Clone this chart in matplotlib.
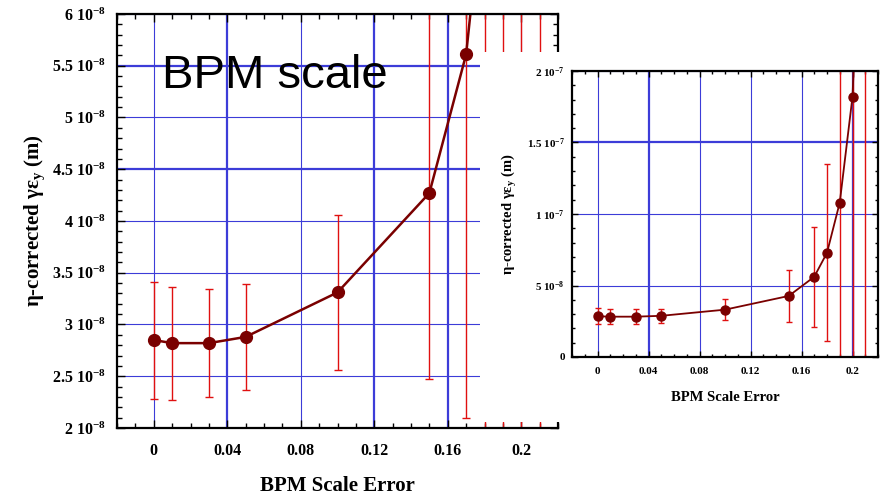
import numpy as np
import matplotlib
matplotlib.use('Agg')
import matplotlib.pyplot as plt
from matplotlib.ticker import MultipleLocator, FuncFormatter, FixedLocator
from matplotlib.patches import Rectangle

plt.rcParams['font.family'] = ['Liberation Serif', 'DejaVu Serif']
plt.rcParams['font.weight'] = 'bold'
plt.rcParams['axes.labelweight'] = 'bold'
plt.rcParams['mathtext.default'] = 'regular'
plt.rcParams['axes.unicode_minus'] = False

# BPM scale error and corrected emittance (m)
scale_err = [0.0, 0.01, 0.03, 0.05, 0.10, 0.15, 0.17, 0.18, 0.19, 0.20, 0.21]
emit = [2.85e-8, 2.82e-8, 2.82e-8, 2.88e-8, 3.31e-8, 4.27e-8, 5.61e-8,
        7.29e-8, 1.08e-7, 1.82e-7, 4.0e-7]
emit_err = [0.565e-8, 0.545e-8, 0.52e-8, 0.51e-8, 0.745e-8, 1.8e-8, 3.51e-8,
            6.2e-8, 1.2e-7, 2.5e-7, 5.0e-7]

left_yticks = [2e-8, 2.5e-8, 3e-8, 3.5e-8, 4e-8, 4.5e-8, 5e-8, 5.5e-8, 6e-8]
right_yticks = [0, 5e-8, 1e-7, 1.5e-7, 2e-7]

line_col = '#7a0000'
err_col = '#e01010'
grid_col = '#3c3cd8'


def sci(v, pos=None):
    if v == 0:
        return '0'
    e = int(np.floor(np.log10(abs(v)) + 1e-9))
    m = round(v / 10**e, 3)
    return '%g 10$^{%d}$' % (m, e)


def style(ax, lsize, major, minor):
    ax.xaxis.set_major_locator(MultipleLocator(0.04))
    ax.xaxis.set_minor_locator(MultipleLocator(0.01))
    ax.xaxis.set_major_formatter(FuncFormatter(lambda v, p: '%g' % round(v, 3)))
    ax.yaxis.set_major_formatter(FuncFormatter(sci))
    ax.tick_params(which='both', direction='in', top=True, right=True,
                   labelsize=lsize, width=1)
    ax.tick_params(which='major', length=major)
    ax.tick_params(which='minor', length=minor)
    for s in ax.spines.values():
        s.set_linewidth(1.6)
    ax.grid(True, which='major', color=grid_col, lw=0.8)
    ax.set_axisbelow(True)


def thicken(ax, xs, ys):
    # some grid lines look heavier in the original
    for loc, gl in zip(ax.get_xticks(), ax.get_xgridlines()):
        if any(abs(loc - x) < 1e-6 for x in xs):
            gl.set_linewidth(1.6)
    for loc, gl in zip(ax.get_yticks(), ax.get_ygridlines()):
        if any(abs(loc - y) < 1e-12 for y in ys):
            gl.set_linewidth(1.6)


fig = plt.figure(figsize=(8.8, 4.97), dpi=100)

# main panel
ax1 = fig.add_axes([117/880, 69/497, 441/880, 414/497])
ax1.errorbar(scale_err, emit, yerr=emit_err, fmt='none', ecolor=err_col,
             elinewidth=1, capsize=3, capthick=1)
ax1.plot(scale_err, emit, '-o', color=line_col, lw=1.8, ms=8.5,
         markerfacecolor=line_col, markeredgecolor=line_col)
ax1.set_xlim(-0.02, 0.22)
ax1.set_ylim(2e-8, 6e-8)
ax1.yaxis.set_major_locator(FixedLocator(left_yticks))
ax1.yaxis.set_minor_locator(MultipleLocator(1e-9))
style(ax1, 11.5, 6, 3.5)
ax1.tick_params(axis='x', pad=11)
ax1.tick_params(axis='y', pad=8)
thicken(ax1, [0.04, 0.12, 0.16], [4.5e-8, 5.5e-8])
ax1.set_xlabel('BPM Scale Error', fontsize=15, labelpad=12)
ax1.set_ylabel('η-corrected γε$_y$ (m)', fontsize=15, labelpad=4)
ax1.text(0.102, 0.821, 'BPM scale', transform=ax1.transAxes, fontsize=34,
         family='Liberation Sans', fontweight='normal', va='baseline')

# white box for the zoomed-out panel
fig.add_artist(Rectangle((480/880, 75/497), 400/880, 370/497,
                         transform=fig.transFigure, facecolor='white',
                         edgecolor='none', zorder=0.5))

# full range panel
ax2 = fig.add_axes([572/880, 140/497, 306/880, 286/497])
ax2.set_zorder(1)
ax2.errorbar(scale_err, emit, yerr=emit_err, fmt='none', ecolor=err_col,
             elinewidth=1, capsize=2, capthick=1)
ax2.plot(scale_err, emit, '-o', color=line_col, lw=1.3, ms=6.5,
         markerfacecolor=line_col, markeredgecolor=line_col)
ax2.set_xlim(-0.02, 0.22)
ax2.set_ylim(0, 2e-7)
ax2.yaxis.set_major_locator(FixedLocator(right_yticks))
ax2.yaxis.set_minor_locator(MultipleLocator(1e-8))
style(ax2, 8, 4.5, 2.5)
ax2.tick_params(axis='x', pad=7)
ax2.tick_params(axis='y', pad=5)
thicken(ax2, [0.04, 0.2], [1.5e-7])
ax2.set_xlabel('BPM Scale Error', fontsize=10.5, labelpad=11)
ax2.set_ylabel('η-corrected γε$_y$ (m)', fontsize=10.5, labelpad=6)

fig.savefig('out.png', dpi=100)
